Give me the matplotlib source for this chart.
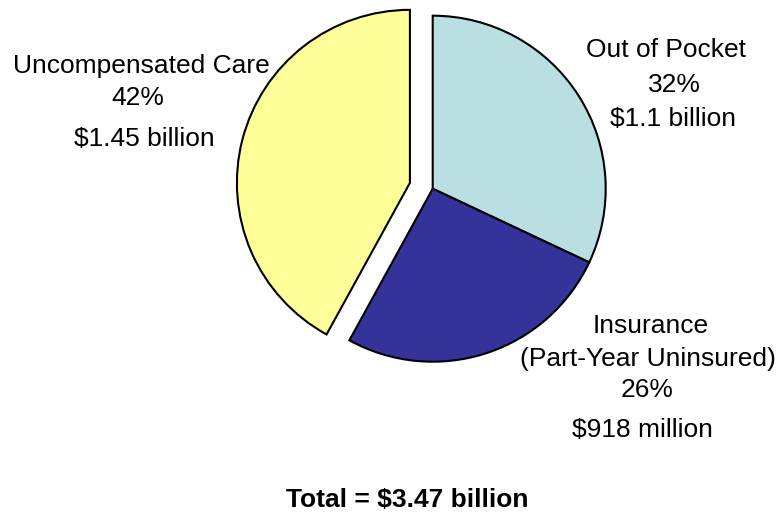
import matplotlib
matplotlib.use("Agg")
import matplotlib.pyplot as plt

categories = ["Out of Pocket", "Insurance", "Uncompensated Care"]
category_lines = [["Out of Pocket"], ["Insurance", "(Part-Year Uninsured)"], ["Uncompensated Care"]]
shares = [32, 26, 42]
amounts = ["$1.1 billion", "$918 million", "$1.45 billion"]
total_label = "Total = $3.47 billion"

colors = ["#BADFE2", "#333399", "#FFFF99"]
explode_frac = [0, 0, 0.136]

W, H = 783, 515
fig = plt.figure(figsize=(W / 100, H / 100), dpi=100)
ax = fig.add_axes([0, 0, 1, 1])
plt.rcParams['font.family'] = ['Liberation Sans', 'DejaVu Sans']

cx, cy, R = 432.7, H - 188.7, 173
ax.pie(shares, colors=colors, explode=[e * R for e in explode_frac], startangle=90,
       counterclock=False, center=(cx, cy), radius=R,
       wedgeprops=dict(edgecolor="black", linewidth=1.5))
ax.set_xlim(0, W)
ax.set_ylim(0, H)
ax.set_aspect("equal")
ax.axis("off")

fs = 19
# label line positions (x center, baseline y in pixels from top)
label_layout = [
    [(666, 57.3), (674, 91.7), (673, 126)],
    [(650.5, 333.3), (648, 366), (647, 396.7), (642.5, 436.7)],
    [(141, 73.5), (137.5, 105), (144, 146)],
]
for i in range(len(categories)):
    lines = category_lines[i] + [f"{shares[i]}%", amounts[i]]
    for txt, (x, y) in zip(lines, label_layout[i]):
        ax.text(x, H - y, txt, ha="center", va="baseline", fontsize=fs,
                family=['Liberation Sans', 'DejaVu Sans'])

ax.text(407.5, H - 507.3, total_label, ha="center", va="baseline", fontsize=fs,
        fontweight="bold", family=['Liberation Sans', 'DejaVu Sans'])

fig.savefig("out.png", dpi=100)
